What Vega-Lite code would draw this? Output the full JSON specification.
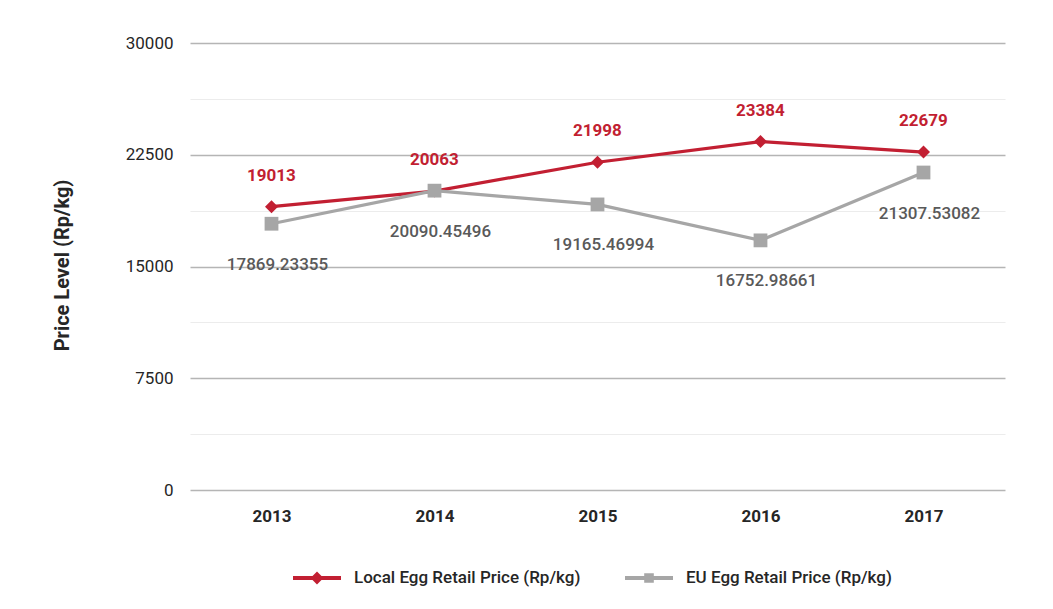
{
  "$schema": "https://vega.github.io/schema/vega-lite/v6.json",
  "width": 815,
  "height": 447,
  "autosize": {"type": "none"},
  "padding": {"left": 190, "top": 43, "right": 48, "bottom": 119},
  "background": "white",
  "config": {"view": {"stroke": null}, "font": "Roboto"},
  "data": {
    "values": [
      {"year": "2013", "series": "Local Egg Retail Price (Rp/kg)", "value": 19013},
      {"year": "2014", "series": "Local Egg Retail Price (Rp/kg)", "value": 20063},
      {"year": "2015", "series": "Local Egg Retail Price (Rp/kg)", "value": 21998},
      {"year": "2016", "series": "Local Egg Retail Price (Rp/kg)", "value": 23384},
      {"year": "2017", "series": "Local Egg Retail Price (Rp/kg)", "value": 22679},
      {"year": "2013", "series": "EU Egg Retail Price (Rp/kg)", "value": 17869.23355},
      {"year": "2014", "series": "EU Egg Retail Price (Rp/kg)", "value": 20090.45496},
      {"year": "2015", "series": "EU Egg Retail Price (Rp/kg)", "value": 19165.46994},
      {"year": "2016", "series": "EU Egg Retail Price (Rp/kg)", "value": 16752.98661},
      {"year": "2017", "series": "EU Egg Retail Price (Rp/kg)", "value": 21307.53082}
    ]
  },
  "encoding": {
    "x": {
      "field": "year",
      "type": "ordinal",
      "axis": {
        "title": null,
        "labelAngle": 0,
        "domain": false,
        "ticks": false,
        "labelPadding": 18,
        "labelFontSize": 17,
        "labelFontWeight": "bold",
        "labelColor": "#262626",
        "grid": false
      }
    },
    "y": {
      "field": "value",
      "type": "quantitative",
      "scale": {"domain": [0, 30000], "nice": false},
      "axis": {
        "title": "Price Level (Rp/kg)",
        "titleFontSize": 20,
        "titleFontWeight": "bold",
        "titleColor": "#262626",
        "titleX": -128,
        "titleY": 222,
        "titleAlign": "center",
        "titleBaseline": "middle",
        "titleAngle": -90,
        "values": [0, 3750, 7500, 11250, 15000, 18750, 22500, 26250, 30000],
        "labelExpr": "datum.value % 7500 === 0 ? '' + datum.value : ''",
        "domain": false,
        "ticks": false,
        "labelPadding": 17,
        "labelFontSize": 17,
        "labelColor": "#262626",
        "grid": true,
        "gridColor": {"condition": {"test": "datum.value % 7500 === 0", "value": "#b5b5b5"}, "value": "#ececec"},
        "gridWidth": {"condition": {"test": "datum.value % 7500 === 0", "value": 1.5}, "value": 1.2}
      }
    }
  },
  "layer": [
    {
      "transform": [{"filter": "datum.series === 'Local Egg Retail Price (Rp/kg)'"}],
      "mark": {"type": "line", "color": "#c21f32", "strokeWidth": 3.2}
    },
    {
      "transform": [{"filter": "datum.series === 'Local Egg Retail Price (Rp/kg)'"}],
      "mark": {"type": "point", "shape": "diamond", "filled": true, "color": "#c21f32", "size": 170, "opacity": 1}
    },
    {
      "transform": [{"filter": "datum.series === 'EU Egg Retail Price (Rp/kg)'"}],
      "mark": {"type": "line", "color": "#a6a6a6", "strokeWidth": 3.2}
    },
    {
      "transform": [{"filter": "datum.series === 'EU Egg Retail Price (Rp/kg)'"}],
      "mark": {"type": "point", "shape": "square", "filled": true, "color": "#a6a6a6", "size": 190, "opacity": 1}
    },
    {
      "transform": [{"filter": "datum.series === 'Local Egg Retail Price (Rp/kg)'"}],
      "mark": {"type": "text", "color": "#c21f32", "fontSize": 17, "fontWeight": "bold", "dy": -31, "baseline": "middle"},
      "encoding": {"text": {"field": "value", "type": "quantitative", "format": "d"}}
    },
    {
      "transform": [{"filter": "datum.series === 'EU Egg Retail Price (Rp/kg)'"}],
      "mark": {"type": "text", "color": "#595959", "fontSize": 17, "fontWeight": 500, "dy": 41, "dx": 6, "baseline": "middle"},
      "encoding": {"text": {"field": "value", "type": "quantitative", "format": ".5f"}}
    },
    {
      "transform": [{"filter": "false"}],
      "mark": {"type": "point", "filled": true, "opacity": 1},
      "encoding": {
        "color": {
          "field": "series",
          "type": "nominal",
          "scale": {
            "domain": ["Local Egg Retail Price (Rp/kg)", "EU Egg Retail Price (Rp/kg)"],
            "range": ["#c21f32", "#a6a6a6"]
          },
          "legend": {
            "title": null,
            "orient": "none",
            "legendX": 103,
            "legendY": 511,
            "direction": "horizontal",
            "symbolSize": 2304,
            "symbolStrokeWidth": 0,
            "labelFontSize": 17,
            "labelFontWeight": 500,
            "labelColor": "#262626",
            "labelOffset": 13,
            "labelLimit": 0,
            "columnPadding": 44
          }
        },
        "shape": {
          "field": "series",
          "type": "nominal",
          "scale": {
            "domain": ["Local Egg Retail Price (Rp/kg)", "EU Egg Retail Price (Rp/kg)"],
            "range": [
              "M-1,-0.08H1V0.08H-1Z M0,-0.27L0.27,0L0,0.27L-0.27,0Z",
              "M-1,-0.08H1V0.08H-1Z M-0.2,-0.2H0.2V0.2H-0.2Z"
            ]
          },
          "legend": {
            "title": null,
            "orient": "none",
            "legendX": 103,
            "legendY": 511,
            "direction": "horizontal",
            "symbolSize": 2304,
            "symbolStrokeWidth": 0,
            "labelFontSize": 17,
            "labelFontWeight": 500,
            "labelColor": "#262626",
            "labelOffset": 13,
            "labelLimit": 0,
            "columnPadding": 44
          }
        }
      }
    }
  ]
}
